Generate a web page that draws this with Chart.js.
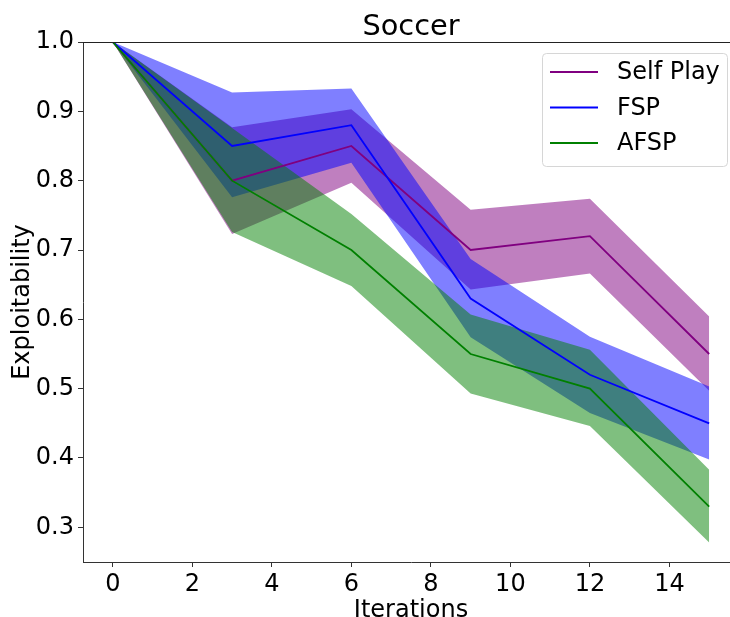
<!DOCTYPE html>
<html>
<head>
<meta charset="utf-8">
<script src="https://cdn.jsdelivr.net/npm/chart.js@4/dist/chart.umd.min.js"></script>
<style>
  html, body { margin: 0; padding: 0; background: #fff; overflow: hidden; }
  #wrap { position: relative; width: 740px; height: 630px; }
</style>
</head>
<body>
<div id="wrap"><canvas id="chart" width="740" height="630"></canvas></div>
<script>
var iterations = [0, 3, 6, 9, 12, 15];

var selfPlayMean  = [1.0, 0.80, 0.85, 0.70, 0.72, 0.55];
var selfPlayUpper = [1.0, 0.877, 0.903, 0.758, 0.774, 0.604];
var selfPlayLower = [1.0, 0.723, 0.797, 0.643, 0.666, 0.497];

var fspMean  = [1.0, 0.85, 0.88, 0.63, 0.52, 0.45];
var fspUpper = [1.0, 0.927, 0.933, 0.687, 0.575, 0.503];
var fspLower = [1.0, 0.776, 0.826, 0.574, 0.465, 0.398];

var afspMean  = [1.0, 0.80, 0.70, 0.55, 0.50, 0.33];
var afspUpper = [1.0, 0.876, 0.752, 0.607, 0.556, 0.383];
var afspLower = [1.0, 0.726, 0.648, 0.493, 0.446, 0.278];

var xTicks = [0, 2, 4, 6, 8, 10, 12, 14];
var yTicks = [0.3, 0.4, 0.5, 0.6, 0.7, 0.8, 0.9, 1.0];

var FONT = "'DejaVu Sans', sans-serif";

function pts(arr){
  return arr.map(function(v, i){ return {x: iterations[i], y: v}; });
}

function band(lower, upper, fillColor){
  return [{
    data: pts(lower), borderWidth: 0, pointRadius: 0, fill: false
  },{
    data: pts(upper), borderWidth: 0, pointRadius: 0, fill: '-1',
    backgroundColor: fillColor
  }];
}

function line(label, arr, color){
  return { label: label, data: pts(arr), borderColor: color, borderWidth: 1.8,
           pointRadius: 0, fill: false, tension: 0 };
}

// fills drawn in reverse order, so afsp band ends up on top like matplotlib
var datasets = []
  .concat(band(afspLower, afspUpper, 'rgba(0,128,0,0.5)'))
  .concat(band(fspLower, fspUpper, 'rgba(0,0,255,0.5)'))
  .concat(band(selfPlayLower, selfPlayUpper, 'rgba(128,0,128,0.5)'))
  .concat([
    line('AFSP', afspMean, 'green'),
    line('FSP', fspMean, 'blue'),
    line('Self Play', selfPlayMean, 'purple')
  ]);

var legendOrder = ['Self Play', 'FSP', 'AFSP'];

var extras = {
  id: 'extras',
  afterDraw: function(chart){
    var ctx = chart.ctx, a = chart.chartArea;
    ctx.save();
    // top spine
    ctx.strokeStyle = '#222';
    ctx.lineWidth = 1;
    ctx.beginPath();
    ctx.moveTo(a.left, a.top + 0.5);
    ctx.lineTo(a.right, a.top + 0.5);
    ctx.stroke();
    // title
    ctx.fillStyle = '#000';
    ctx.font = '28.8px ' + FONT;
    ctx.textAlign = 'center';
    ctx.textBaseline = 'alphabetic';
    ctx.fillText('Soccer', (a.left + a.right) / 2, 35);
    // legend
    var bx = 542, by = 53, bw = 185, bh = 113;
    ctx.fillStyle = 'rgba(255,255,255,0.8)';
    ctx.strokeStyle = '#d6d6d6';
    ctx.beginPath();
    ctx.roundRect(bx + 0.5, by + 0.5, bw, bh, 4);
    ctx.fill();
    ctx.stroke();
    ctx.font = '24px ' + FONT;
    ctx.textAlign = 'left';
    ctx.textBaseline = 'middle';
    legendOrder.forEach(function(name, i){
      var ds = chart.data.datasets.find(function(d){ return d.label === name; });
      var y = 72 + i * 35.5;
      ctx.strokeStyle = ds.borderColor;
      ctx.lineWidth = 2;
      ctx.beginPath();
      ctx.moveTo(550, y);
      ctx.lineTo(598, y);
      ctx.stroke();
      ctx.fillStyle = '#000';
      ctx.fillText(name, 617, y + 1);
    });
    ctx.restore();
  }
};

new Chart(document.getElementById('chart'), {
  type: 'line',
  data: { datasets: datasets },
  options: {
    responsive: false,
    animation: false,
    layout: { padding: { top: 42, right: 1, left: 0, bottom: 0 } },
    plugins: {
      legend: { display: false },
      tooltip: { enabled: false },
      title: { display: false },
      filler: { drawTime: 'beforeDatasetsDraw' }
    },
    scales: {
      x: {
        type: 'linear',
        min: -0.75,
        max: 15.75,
        afterBuildTicks: function(scale){
          scale.ticks = xTicks.map(function(v){ return {value: v}; });
        },
        afterFit: function(scale){ scale.height = 68; },
        grid: { drawOnChartArea: false, drawTicks: true, tickLength: 5, tickColor: '#333' },
        border: { display: true, color: '#333', width: 1 },
        ticks: {
          color: '#000', font: { family: FONT, size: 24 }, padding: 3,
          maxRotation: 0, autoSkip: false,
          callback: function(v){ return String(v); }
        },
        title: {
          display: true, text: 'Iterations', color: '#000',
          font: { family: FONT, size: 24 }, padding: { top: 0, bottom: 5 }
        }
      },
      y: {
        type: 'linear',
        min: 0.25,
        max: 1.0,
        afterBuildTicks: function(scale){
          scale.ticks = yTicks.map(function(v){ return {value: v}; });
        },
        afterFit: function(scale){ scale.width = 83; },
        grid: { drawOnChartArea: false, drawTicks: true, tickLength: 5, tickColor: '#333' },
        border: { display: true, color: '#333', width: 1 },
        ticks: {
          color: '#000', font: { family: FONT, size: 24 }, padding: 4,
          callback: function(v){ return Number(v).toFixed(1); }
        },
        title: {
          display: true, text: 'Exploitability', color: '#000',
          font: { family: FONT, size: 24 }, padding: { top: 8, bottom: 0 }
        }
      }
    }
  },
  plugins: [extras]
});
</script>
</body>
</html>
